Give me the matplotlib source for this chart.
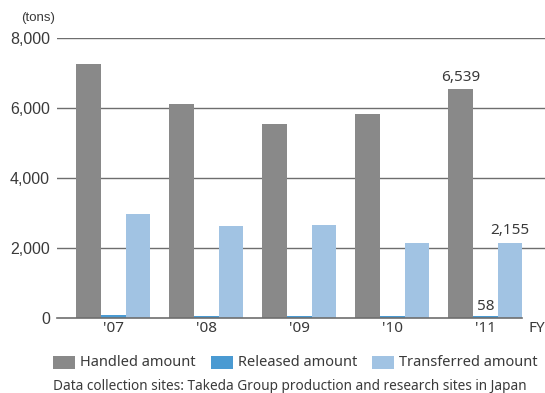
import numpy as np
import matplotlib.pyplot as plt
from matplotlib.patches import Rectangle

years = ["'07", "'08", "'09", "'10", "'11"]
handled = [7270, 6100, 5530, 5820, 6539]
released = [100, 65, 65, 45, 58]
transferred = [2960, 2630, 2650, 2150, 2155]

c_handled = '#898989'
c_released = '#4a9ad2'
c_transferred = '#a1c3e3'
txt = '#3a3a3a'
grid_c = '#6e6e6e'

W, H = 545, 393
fig = plt.figure(figsize=(W / 100, H / 100), dpi=100)
ax = fig.add_axes([57 / W, 75 / H, 488 / W, 280 / H])

x = np.arange(len(years))
w = 0.265
ax.bar(x - w, handled, w, color=c_handled, zorder=3)
ax.bar(x, released, w, color=c_released, zorder=3)
ax.bar(x + w, transferred, w, color=c_transferred, zorder=3)

ax.set_xlim(-0.605, 4.64)
ax.set_ylim(0, 8000)

# horizontal grid lines run to the figure edge, the zero line stops short
for v in [2000, 4000, 6000, 8000]:
    ax.axhline(v, color=grid_c, lw=1.0, zorder=1)
ax.plot([-0.605, 4.39], [0, 0], color=grid_c, lw=1.2, zorder=4, clip_on=False)

for s in ax.spines.values():
    s.set_visible(False)
ax.set_yticks([0, 2000, 4000, 6000, 8000])
ax.set_yticklabels(['{:,}'.format(v) for v in [0, 2000, 4000, 6000, 8000]],
                   fontsize=11.5, color=txt, family='Liberation Sans')
ax.tick_params(axis='y', length=0, pad=5)
ax.set_xticks(x)
ax.set_xticklabels(years, fontsize=11, color=txt, family='Noto Sans')
ax.tick_params(axis='x', length=0, pad=2)

ax.text(4.46, -100, 'FY', ha='left', va='top', fontsize=11, color=txt, family='Noto Sans')
fig.text(21 / W, 1 - 18 / H, '(tons)', ha='left', va='center', fontsize=9.5,
         color=txt, family='Liberation Sans')

# value labels for the latest year
ax.text(x[4] - w, handled[4] + 120, '{:,}'.format(handled[4]), ha='center', va='bottom',
        fontsize=11, color=txt, family='Noto Sans')
ax.text(x[4] + w, transferred[4] + 120, '{:,}'.format(transferred[4]), ha='center', va='bottom',
        fontsize=11, color=txt, family='Noto Sans')
ax.text(x[4], released[4] + 60, '{:,}'.format(released[4]), ha='center', va='bottom',
        fontsize=11, color=txt, family='Noto Sans')

# legend drawn by hand: swatch left edges and label starts in pixels
labels = ['Handled amount', 'Released amount', 'Transferred amount']
colors = [c_handled, c_released, c_transferred]
swatch_x = [53, 211, 372]
for sx, col, lab in zip(swatch_x, colors, labels):
    fig.patches.append(Rectangle((sx / W, 1 - 369 / H), 22 / W, 13 / H,
                                 transform=fig.transFigure, color=col, lw=0))
    fig.text((sx + 27) / W, 1 - 362 / H, lab, ha='left', va='center', fontsize=10.5,
             color=txt, family='Noto Sans')

fig.text(53 / W, 1 - 386 / H,
         'Data collection sites: Takeda Group production and research sites in Japan',
         ha='left', va='center', fontsize=9.8, color=txt, family='Noto Sans')

fig.savefig('out.png', dpi=100)
